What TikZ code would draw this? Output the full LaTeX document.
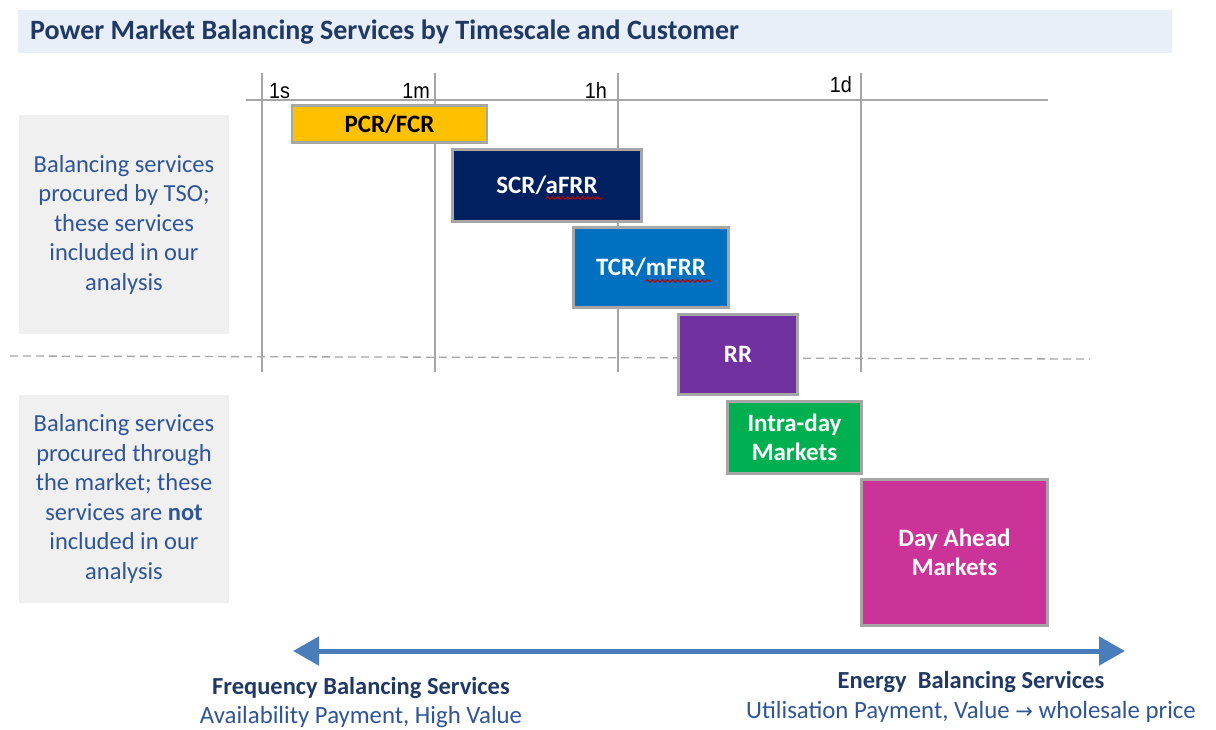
\documentclass[tikz,border=0pt]{standalone}
\usepackage{fontspec}
\setmainfont{Carlito}
\newfontfamily\axisfont[FakeStretch=0.9]{Liberation Sans}
\newfontfamily\symfont{DejaVu Sans}
\usetikzlibrary{arrows.meta,decorations.pathmorphing}
\definecolor{titleblue}{HTML}{1F3864}
\definecolor{textblue}{HTML}{2F5597}
\definecolor{bandblue}{HTML}{E8EFF8}
\definecolor{panelgray}{HTML}{F0F0F0}
\definecolor{linegray}{HTML}{A6A6A6}
\definecolor{cPCR}{HTML}{FFC000}
\definecolor{cSCR}{HTML}{002060}
\definecolor{cTCR}{HTML}{0070C0}
\definecolor{cRR}{HTML}{7030A0}
\definecolor{cID}{HTML}{00B050}
\definecolor{cDA}{HTML}{CC3399}
\definecolor{arrowblue}{HTML}{4A7EBB}
\tikzset{
  svcbox/.style={draw=linegray, line width=2.5pt, inner sep=0pt, align=center,
    text=white, font=\fontsize{25}{29.5}\selectfont\bfseries},
  panel/.style={fill=panelgray, inner sep=0pt, align=center, text=textblue,
    font=\fontsize{24.5}{29.5}\selectfont},
  axislab/.style={font=\axisfont\fontsize{22}{24}\selectfont, inner sep=0pt},
  gridline/.style={draw=linegray, line width=1.3pt},
  squiggle/.style={draw=red!75!black, line width=1pt, decorate,
    decoration={snake, amplitude=1.3pt, segment length=5pt}},
  boldcap/.style={font=\fontsize{24.5}{28}\selectfont\bfseries, text=titleblue, inner sep=0pt},
  subcap/.style={font=\fontsize{24.8}{28}\selectfont, text=textblue, inner sep=0pt}
}
\begin{document}
\begin{tikzpicture}[x=1pt,y=-1pt]
\useasboundingbox (0,0) rectangle (1216,729);
% title band
\fill[bandblue] (18,10) rectangle (1172,53);
\node[anchor=west, inner sep=0pt, text=titleblue, font=\fontsize{28}{30}\selectfont\bfseries] (title) at (30,32) {Power Market Balancing Services by Timescale and Customer};
% left panels
\node[panel, minimum width=210pt, minimum height=219pt] (tso) at (124,224.5)
  {Balancing services\\procured by TSO;\\these services\\included in our\\analysis};
\node[panel, minimum width=210pt, minimum height=208pt] (mkt) at (124,499)
  {Balancing services\\procured through\\the market; these\\services are \textbf{not}\\included in our\\analysis};
% axis
\draw[gridline] (246,100) -- (1048,100);
\foreach \xx in {262,435,618,861} \draw[gridline] (\xx,73) -- (\xx,372);
\node[axislab, anchor=base west] (l1s) at (269,98) {1s};
\node[axislab, anchor=base east] (l1m) at (430,98) {1m};
\node[axislab, anchor=base east] (l1h) at (607,98) {1h};
\node[axislab, anchor=base east] (l1d) at (852,92) {1d};
% dashed separator
\draw[linegray, line width=1.3pt, dash pattern=on 8pt off 5pt] (10,356) -- (1090,359);
% service boxes
\node[svcbox, fill=cPCR, text=black, minimum width=195pt, minimum height=37pt] (pcr) at (389.5,124) {PCR/FCR};
\node[svcbox, fill=cSCR, minimum width=189pt, minimum height=72pt] (scr) at (547,185.5) {SCR/aFRR};
\node[svcbox, fill=cTCR, minimum width=155pt, minimum height=80pt] (tcr) at (651,267.5) {TCR/mFRR};
\node[svcbox, fill=cRR, minimum width=119pt, minimum height=80pt] (rr) at (738,354.5) {RR};
\node[svcbox, fill=cID, minimum width=134pt, minimum height=72pt] (id) at (794.5,437.5) {Intra-day\\Markets};
\node[svcbox, fill=cDA, minimum width=186pt, minimum height=146pt] (da) at (954.5,552.5) {Day Ahead\\Markets};
% spell-check squiggles
\draw[squiggle] (546,198) -- (603,198);
\draw[squiggle] (646,281) -- (711,281);
% double arrow
\coordinate (aL) at (293,651);
\coordinate (aR) at (1125,651);
\draw[arrowblue, line width=5pt, {Triangle[length=26pt,width=28pt]}-{Triangle[length=26pt,width=28pt]}] (aL) -- (aR);
% bottom captions
\node[boldcap] (fbs) at (361,688) {Frequency Balancing Services};
\node[subcap] (fbs2) at (361,717) {Availability Payment, High Value};
\node[boldcap] (ebs) at (971,682) {Energy\ \ Balancing Services};
\node[subcap] (ebs2) at (971,712) {Utilisation Payment, Value {\symfont\fontsize{21}{22}\selectfont →} wholesale price};
\end{tikzpicture}
\end{document}
